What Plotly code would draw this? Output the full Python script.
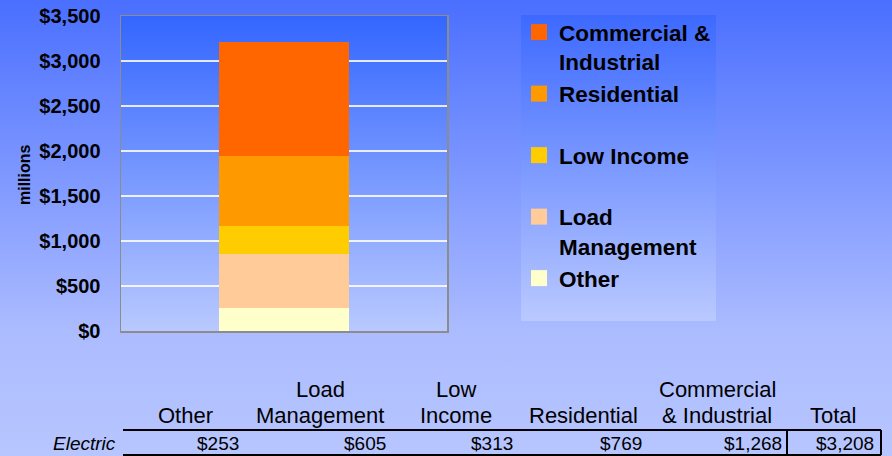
import plotly.graph_objects as go

# ---------------- data ----------------
series_names = ["Other", "Load Management", "Low Income", "Residential", "Commercial & Industrial"]
series_values = [253, 605, 313, 769, 1268]
series_colors = ["#ffffcc", "#ffcc99", "#ffcc00", "#ff9900", "#ff6600"]
category = ["Electric"]
legend_labels = ["Other", "Load<br>Management", "Low Income", "Residential", "Commercial &<br>Industrial"]
table_headers = ["Other", "Load<br>Management", "Low<br>Income", "Residential", "Commercial<br>& Industrial", "Total"]
row_label = "Electric"
y_ticks = [0, 500, 1000, 1500, 2000, 2500, 3000, 3500]
y_tick_labels = ["$0", "$500", "$1,000", "$1,500", "$2,000", "$2,500", "$3,000", "$3,500"]

W, H = 892, 456
FONT = "Arial, Liberation Sans, sans-serif"


def px(x):
    return x / W


def py(y):
    return 1 - y / H


def rect(x0, y0, x1, y1, cscale):
    # pixel rect on the background axis (y axis = H - pixel)
    return go.Scatter(
        x=[x0, x1, x1, x0, x0],
        y=[H - y0, H - y0, H - y1, H - y1, H - y0],
        mode="lines", line=dict(width=0), fill="toself",
        fillgradient=dict(type="vertical", colorscale=cscale),
        xaxis="x", yaxis="y", hoverinfo="skip", showlegend=False,
    )


fig = go.Figure()

# background gradients (decoration)
fig.add_trace(rect(0, 0, W, H, [[0, "#b7c6ff"], [0.28, "#abbbff"], [1, "#4a6fff"]]))
fig.add_trace(rect(121, 16, 447, 331, [[0, "#b9c9ff"], [1, "#3366ff"]]))
fig.add_trace(rect(521, 15, 716, 321, [[0, "#bac9ff"], [1, "#3d69ff"]]))

# stacked bars
for name, val, col in zip(series_names, series_values, series_colors):
    fig.add_trace(go.Bar(
        x=category, y=[val], name=name, marker=dict(color=col, line=dict(width=0)),
        xaxis="x2", yaxis="y2", showlegend=False,
    ))

# legend proxies (top-to-bottom order)
for lab, col in reversed(list(zip(legend_labels, series_colors))):
    if "<br>" not in lab:
        lab = lab + "<br> "
    fig.add_trace(go.Scatter(
        x=[None], y=[None], mode="markers", name=lab,
        marker=dict(symbol="square", size=16, color=col, line=dict(width=0)),
        xaxis="x2", yaxis="y2", showlegend=True,
    ))

annotations = []
shapes = []

# y-axis title
annotations.append(dict(
    text="millions", x=px(24), y=py(175), xref="paper", yref="paper",
    xanchor="center", yanchor="middle",
    textangle=-90, showarrow=False, font=dict(family=FONT, size=16, color="black", weight="bold"),
))

# table
col_centers = [185, 320, 456, 583, 717, 833]
col_rights = [241, 388, 515, 644, 784, 876]
header_line_y = [389, 415]
table_values = series_values + [sum(series_values)]
for hdr, cx in zip(table_headers, col_centers):
    lines = hdr.split("<br>")
    ys = header_line_y[-len(lines):]
    for line, yy in zip(lines, ys):
        annotations.append(dict(
            text=line, x=px(cx), y=py(yy), xref="paper", yref="paper", xanchor="center",
            yanchor="middle", showarrow=False,
            font=dict(family=FONT, size=22, color="black"),
        ))
for v, rx in zip(table_values, col_rights):
    annotations.append(dict(
        text=f"${v:,}", x=px(rx), y=py(443), xref="paper", yref="paper", xanchor="right",
        yanchor="middle", showarrow=False,
        font=dict(family=FONT, size=19, color="black"),
    ))
annotations.append(dict(
    text=f"<i>{row_label}</i>", x=px(118), y=py(443), xref="paper", yref="paper",
    xanchor="right", yanchor="middle", showarrow=False,
    font=dict(family=FONT, size=19, color="black"),
))
line_style = dict(color="black", width=2)
for yy in (430, 455):
    shapes.append(dict(type="line", xref="paper", yref="paper", x0=px(123), x1=px(881),
                       y0=py(yy), y1=py(yy), line=line_style))
for xx in (787, 881):
    shapes.append(dict(type="line", xref="paper", yref="paper", x0=px(xx), x1=px(xx),
                       y0=py(430), y1=py(455), line=line_style))

fig.update_layout(
    width=W, height=H, margin=dict(l=0, r=0, t=0, b=0, autoexpand=False),
    paper_bgcolor="#b5c4fd", plot_bgcolor="rgba(0,0,0,0)",
    barmode="stack", bargap=0.6,
    font=dict(family=FONT, color="black"),
    xaxis=dict(domain=[0, 1], range=[0, W], visible=False, fixedrange=True, automargin=False),
    yaxis=dict(domain=[0, 1], range=[0, H], visible=False, fixedrange=True, automargin=False),
    xaxis2=dict(domain=[px(121), px(447)], anchor="y2", range=[-0.5, 0.5], automargin=False,
                showticklabels=False, showgrid=False, zeroline=False,
                showline=True, mirror=True, linecolor="#8c8c8c", linewidth=1.5),
    yaxis2=dict(domain=[py(331), py(16)], anchor="x2", range=[0, 3500], automargin=False,
                tickvals=y_ticks, ticktext=y_tick_labels, ticks="",
                ticklabelstandoff=15,
                tickfont=dict(family=FONT, size=20, color="black", weight="bold"),
                showgrid=True, gridcolor="rgba(255,255,255,0.85)", gridwidth=1.5,
                zeroline=False, showline=True, mirror=True, linecolor="#8c8c8c", linewidth=1.5),
    legend=dict(x=px(519), y=py(11), xanchor="left", yanchor="top",
                bgcolor="rgba(0,0,0,0)", borderwidth=0, valign="top",
                traceorder="normal", itemclick=False, itemdoubleclick=False,
                font=dict(family=FONT, size=22.5, color="black", weight="bold")),
    annotations=annotations, shapes=shapes,
    showlegend=True,
)

fig.write_html(
    "out.html",
    config={"displayModeBar": False, "staticPlot": True},
    post_script="document.body.style.margin='0';document.body.style.overflow='hidden';",
)
